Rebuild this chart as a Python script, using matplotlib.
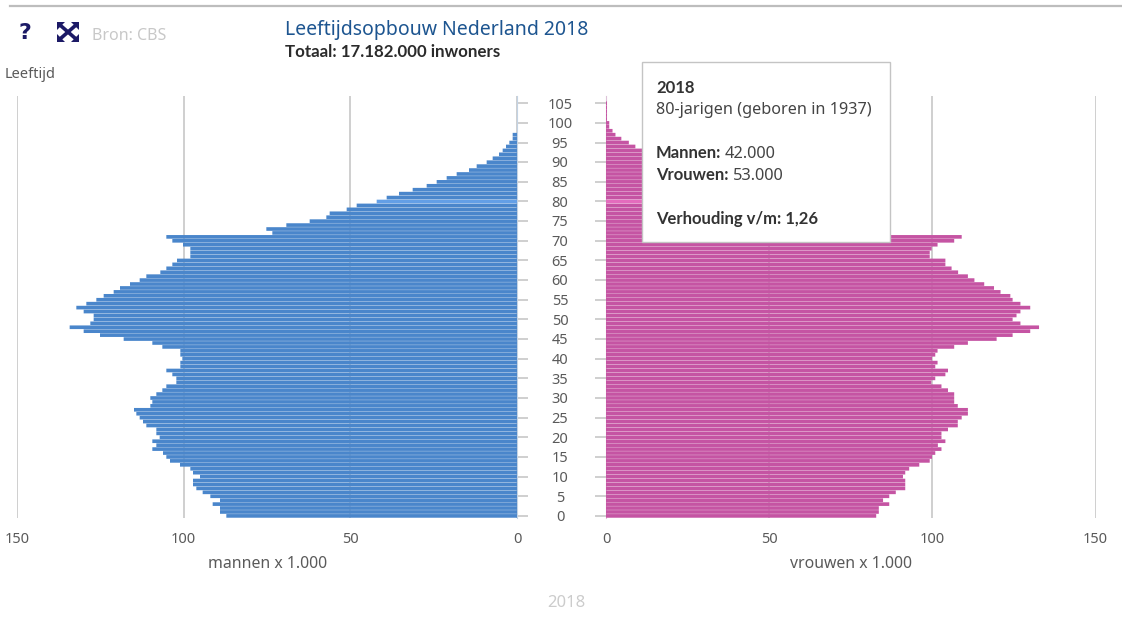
import numpy as np
import matplotlib
matplotlib.use("Agg")
import matplotlib.pyplot as plt
from matplotlib.patches import Rectangle, Polygon

plt.rcParams['font.family'] = ['Noto Sans', 'DejaVu Sans']

# values in thousands, index = age 0..105
men = [87.2, 89.1, 89.1, 91.3, 89.1, 92.0, 94.3, 96.2, 97.2, 97.2,
       95.1, 97.2, 98.0, 101.1, 104.1, 105.2, 106.2, 109.4, 108.2, 109.4,
       107.2, 108.2, 108.2, 111.2, 112.2, 113.2, 114.2, 114.9, 110.0, 109.4,
       110.0, 108.2, 106.4, 105.2, 102.2, 102.2, 103.4, 105.2, 101.0, 101.0,
       100.4, 101.0, 101.0, 106.4, 109.4, 118.0, 125.1, 130.0, 134.2, 128.0,
       127.0, 127.0, 130.0, 132.2, 129.2, 126.2, 124.0, 121.0, 119.1, 116.1,
       113.2, 111.2, 107.0, 105.2, 103.4, 102.0, 98.0, 98.0, 98.0, 100.2,
       103.4, 105.2, 73.4, 75.2, 69.2, 62.2, 57.2, 56.2, 51.1, 48.1,
       42.1, 39.1, 35.4, 31.3, 27.1, 24.1, 21.1, 18.1, 14.4, 12.1,
       9.1, 7.3, 5.4, 4.3, 3.3, 2.3, 1.3, 1.3, 0, 0,
       0, 0, 0, 0, 0, 0]

# ages 72-92 sit behind the tooltip, those are estimates
women = [82.8, 83.6, 83.6, 86.8, 84.9, 86.8, 88.8, 91.7, 91.7, 91.7,
         91.0, 91.7, 92.9, 96.0, 99.2, 99.9, 100.9, 102.8, 101.7, 104.0,
         102.8, 102.8, 104.8, 107.8, 107.8, 109.0, 110.9, 110.9, 107.8, 106.7,
         106.7, 106.7, 104.8, 102.8, 99.7, 100.9, 104.0, 104.8, 100.9, 101.6,
         99.9, 100.9, 101.6, 106.7, 110.9, 119.7, 124.6, 130.0, 132.7, 127.0,
         124.6, 125.8, 127.0, 130.0, 127.0, 124.6, 123.9, 120.9, 118.9, 115.9,
         112.9, 110.9, 107.9, 105.9, 104.0, 104.0, 99.2, 99.2, 99.8, 101.6,
         106.7, 109.0, 82, 84, 80, 74, 70, 68, 64, 59,
         53, 51, 48, 45, 41, 37, 34, 30, 26, 22,
         18, 15, 13, 11.2, 9.0, 7.0, 4.7, 2.9, 2.0, 1.0,
         1.0, 0.3, 0.3, 0.3, 0.3, 0.3]

age_ticks = [0, 5, 10, 15, 20, 25, 30, 35, 40, 45, 50, 55, 60, 65, 70, 75, 80, 85, 90, 95, 100, 105]
value_ticks = [0, 50, 100, 150]
selected_age = 80

W, H = 1122, 621
GRID = '#cfcfcf'
TXT = '#5a5a5a'
NAVY = '#1c1a66'
BOLD = ['Lato', 'DejaVu Sans']


def px_axes(fig, x0, x1, y0, y1):
    # axes box from pixel positions, y measured from the top
    return fig.add_axes([x0 / W, 1 - y1 / H, (x1 - x0) / W, (y1 - y0) / H])


fig = plt.figure(figsize=(W / 100, H / 100), dpi=100, facecolor='white')

ages = np.arange(len(men))
age_top = (515.9 - 96) / 3.93
age_bot = (515.9 - 518) / 3.93

ax_m = px_axes(fig, 17, 517, 96, 518)
ax_w = px_axes(fig, 606, 1095.5, 96, 518)

men_colors = ['#639fe6' if a == selected_age else '#4a86cb' for a in ages]
women_colors = ['#e46cbd' if a == selected_age else '#c554a3' for a in ages]
# snap off, otherwise the gaps between bars come out uneven
for bar in ax_m.barh(ages, men, height=0.93, color=men_colors, zorder=3):
    bar.set_snap(False)
for bar in ax_w.barh(ages, women, height=0.93, color=women_colors, zorder=3):
    bar.set_snap(False)

ax_m.set_xlim(150, 0)
ax_w.set_xlim(0, 150)

for ax in (ax_m, ax_w):
    ax.set_ylim(age_bot, age_top)
    ax.set_xticks(value_ticks)
    ax.set_yticks(age_ticks)
    ax.set_yticklabels([])
    ax.grid(axis='x', color=GRID, lw=1.4, zorder=1)
    ax.tick_params(axis='x', length=0, pad=10, labelsize=10.5, labelcolor=TXT)
    ax.tick_params(axis='y', length=8, width=1.4, color=GRID)
    for s in ax.spines.values():
        s.set_visible(False)
    ax.patch.set_alpha(0)

ax_m.yaxis.tick_right()
ax_m.spines['right'].set_visible(True)
ax_m.spines['right'].set_color('#c3d3e4')
ax_w.spines['left'].set_visible(True)
ax_w.spines['left'].set_color('#dcc3d8')

# age labels in the gap between both halves
trans = ax_m.get_yaxis_transform()
for a in age_ticks:
    ax_m.text(1 + 43 / 500, a - 0.45, str(a), transform=trans, ha='center', va='center',
              fontsize=10.5, color=TXT, clip_on=False)

ax_m.set_xlabel('mannen x 1.000', fontsize=11.4, color=TXT)
ax_m.xaxis.set_label_coords((268 - 17) / 500, -(564 - 518) / 422, transform=ax_m.transAxes)
ax_w.set_xlabel('vrouwen x 1.000', fontsize=11.4, color=TXT)
ax_w.xaxis.set_label_coords((851 - 606) / 489.5, -(564 - 518) / 422, transform=ax_w.transAxes)
ax_m.xaxis.label.set_va('center')
ax_w.xaxis.label.set_va('center')

# overlay in pixel coordinates for header, icons and tooltip
ov = fig.add_axes([0, 0, 1, 1], zorder=10)
ov.set_xlim(0, W)
ov.set_ylim(H, 0)
ov.axis('off')

ov.plot([10, W], [6, 6], color='#bdbdbd', lw=1.6)
ov.text(25, 33, '?', fontsize=16, fontweight='bold', family='DejaVu Sans', color=NAVY, ha='center', va='center')

# expand icon: crossed bars with a triangle in every corner
ov.plot([60, 76], [25, 39], color=NAVY, lw=2.6, solid_capstyle='butt')
ov.plot([76, 60], [25, 39], color=NAVY, lw=2.6, solid_capstyle='butt')
for cx, sx in [(57, 1), (79, -1)]:
    for cy, sy in [(22, 1), (42, -1)]:
        ov.add_patch(Polygon([(cx, cy), (cx + 8 * sx, cy), (cx, cy + 8 * sy)], color=NAVY, lw=0))

ov.text(92, 35.5, 'Bron: CBS', fontsize=11.5, color='#c8c8c8', va='center')
ov.text(285, 30, 'Leeftijdsopbouw Nederland 2018', fontsize=14, color='#1d5590', va='center')
ov.text(285, 52, 'Totaal: 17.182.000 inwoners', fontsize=12.2, fontweight='bold', family=BOLD,
        color='#2b2b2b', va='center')
ov.text(5, 75, 'Leeftijd', fontsize=10.5, color=TXT, va='center')
ov.text(566, 603, '2018', fontsize=12, color='#cccccc', ha='center', va='center')

ov.add_patch(Rectangle((642, 62), 248, 180, facecolor='white', edgecolor='#c4c4c4', lw=1))
TIP = '#333333'
ov.text(656, 88, '2018', fontsize=12, fontweight='bold', family=BOLD, color=TIP, va='center')
ov.text(656, 110, '80-jarigen (geboren in 1937)', fontsize=11.7, color='#444444', va='center')
ov.text(656, 153, 'Mannen:', fontsize=12, fontweight='bold', family=BOLD, color=TIP, va='center')
ov.text(725, 154, '42.000', fontsize=11.8, color='#444444', va='center')
ov.text(656, 175, 'Vrouwen:', fontsize=12, fontweight='bold', family=BOLD, color=TIP, va='center')
ov.text(733, 176, '53.000', fontsize=11.8, color='#444444', va='center')
ov.text(656, 219, 'Verhouding v/m: 1,26', fontsize=12, fontweight='bold', family=BOLD, color=TIP, va='center')

fig.savefig('out.png', dpi=100)
